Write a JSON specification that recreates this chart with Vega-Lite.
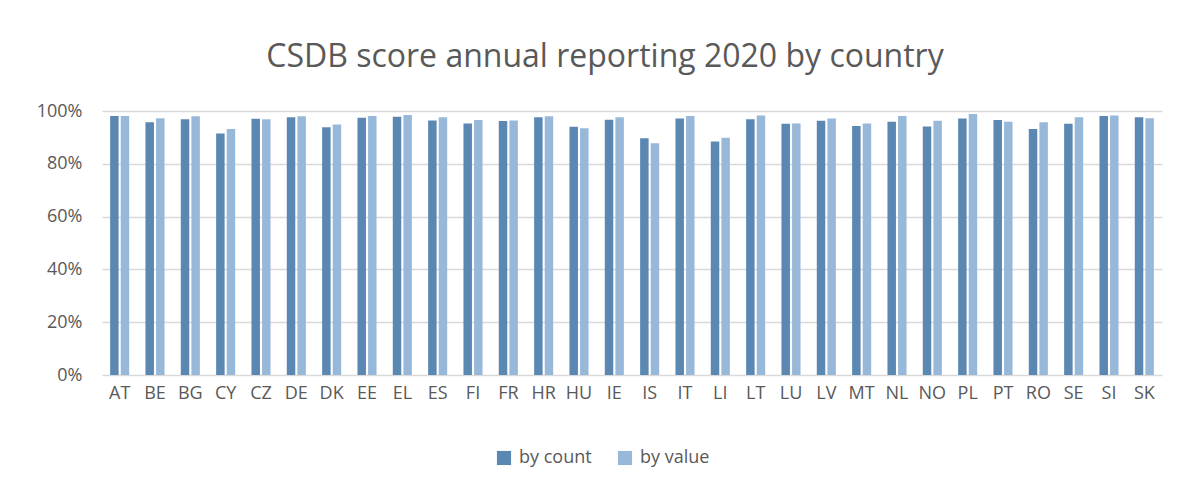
{
  "$schema": "https://vega.github.io/schema/vega-lite/v6.json",
  "width": 1060,
  "height": 264,
  "autosize": {"type": "none"},
  "padding": {"left": 102, "top": 111, "right": 30, "bottom": 113},
  "background": "white",
  "title": {"text": "CSDB score annual reporting 2020 by country", "anchor": "middle", "dx": -27, "offset": 28, "fontSize": 32, "font": "Open Sans", "fontWeight": "normal", "color": "#595959"},
  "data": {"values": [
    {"c":"AT","s":"by count","v":98.1},{"c":"AT","s":"by value","v":98.1},
    {"c":"BE","s":"by count","v":95.7},{"c":"BE","s":"by value","v":97.3},
    {"c":"BG","s":"by count","v":96.9},{"c":"BG","s":"by value","v":98.0},
    {"c":"CY","s":"by count","v":91.5},{"c":"CY","s":"by value","v":93.2},
    {"c":"CZ","s":"by count","v":97.1},{"c":"CZ","s":"by value","v":96.9},
    {"c":"DE","s":"by count","v":97.6},{"c":"DE","s":"by value","v":98.0},
    {"c":"DK","s":"by count","v":93.8},{"c":"DK","s":"by value","v":94.9},
    {"c":"EE","s":"by count","v":97.4},{"c":"EE","s":"by value","v":98.1},
    {"c":"EL","s":"by count","v":97.8},{"c":"EL","s":"by value","v":98.5},
    {"c":"ES","s":"by count","v":96.4},{"c":"ES","s":"by value","v":97.6},
    {"c":"FI","s":"by count","v":95.3},{"c":"FI","s":"by value","v":96.6},
    {"c":"FR","s":"by count","v":96.2},{"c":"FR","s":"by value","v":96.4},
    {"c":"HR","s":"by count","v":97.6},{"c":"HR","s":"by value","v":98.0},
    {"c":"HU","s":"by count","v":94.0},{"c":"HU","s":"by value","v":93.5},
    {"c":"IE","s":"by count","v":96.7},{"c":"IE","s":"by value","v":97.6},
    {"c":"IS","s":"by count","v":89.7},{"c":"IS","s":"by value","v":87.8},
    {"c":"IT","s":"by count","v":97.2},{"c":"IT","s":"by value","v":98.1},
    {"c":"LI","s":"by count","v":88.4},{"c":"LI","s":"by value","v":89.9},
    {"c":"LT","s":"by count","v":96.9},{"c":"LT","s":"by value","v":98.3},
    {"c":"LU","s":"by count","v":95.2},{"c":"LU","s":"by value","v":95.3},
    {"c":"LV","s":"by count","v":96.3},{"c":"LV","s":"by value","v":97.2},
    {"c":"MT","s":"by count","v":94.3},{"c":"MT","s":"by value","v":95.3},
    {"c":"NL","s":"by count","v":95.9},{"c":"NL","s":"by value","v":98.1},
    {"c":"NO","s":"by count","v":94.1},{"c":"NO","s":"by value","v":96.3},
    {"c":"PL","s":"by count","v":97.2},{"c":"PL","s":"by value","v":98.9},
    {"c":"PT","s":"by count","v":96.6},{"c":"PT","s":"by value","v":95.9},
    {"c":"RO","s":"by count","v":93.2},{"c":"RO","s":"by value","v":95.7},
    {"c":"SE","s":"by count","v":95.2},{"c":"SE","s":"by value","v":97.6},
    {"c":"SI","s":"by count","v":98.1},{"c":"SI","s":"by value","v":98.3},
    {"c":"SK","s":"by count","v":97.6},{"c":"SK","s":"by value","v":97.3}
  ]},
  "mark": {"type": "bar"},
  "encoding": {
    "x": {"field": "c", "type": "nominal", "sort": null, "title": null,
      "scale": {"paddingInner": 0.46, "paddingOuter": 0.23},
      "axis": {"labelAngle": 0, "labelFont": "Open Sans", "labelFontSize": 18, "labelColor": "#595959", "labelPadding": 9, "ticks": false, "domain": false}},
    "xOffset": {"field": "s", "type": "nominal", "scale": {"paddingInner": 0.2}},
    "y": {"field": "v", "type": "quantitative", "title": null,
      "scale": {"domain": [0, 100]},
      "axis": {"values": [0, 20, 40, 60, 80, 100], "labelExpr": "datum.value + '%'", "labelFont": "Open Sans", "labelFontSize": 18, "labelColor": "#595959", "labelPadding": 20, "ticks": false, "domain": false, "gridColor": "#d9d9d9", "gridWidth": 1.5}},
    "color": {"field": "s", "type": "nominal", "title": null,
      "scale": {"domain": ["by count", "by value"], "range": ["#5b87b3", "#98b8d9"]},
      "legend": {"orient": "none", "legendX": 393, "legendY": 338, "direction": "horizontal", "symbolType": "square", "symbolSize": 200, "symbolStrokeWidth": 0, "labelFont": "Open Sans", "labelFontSize": 18, "labelColor": "#595959", "columnPadding": 24, "labelOffset": 6}}
  },
  "config": {"view": {"stroke": null}}
}
